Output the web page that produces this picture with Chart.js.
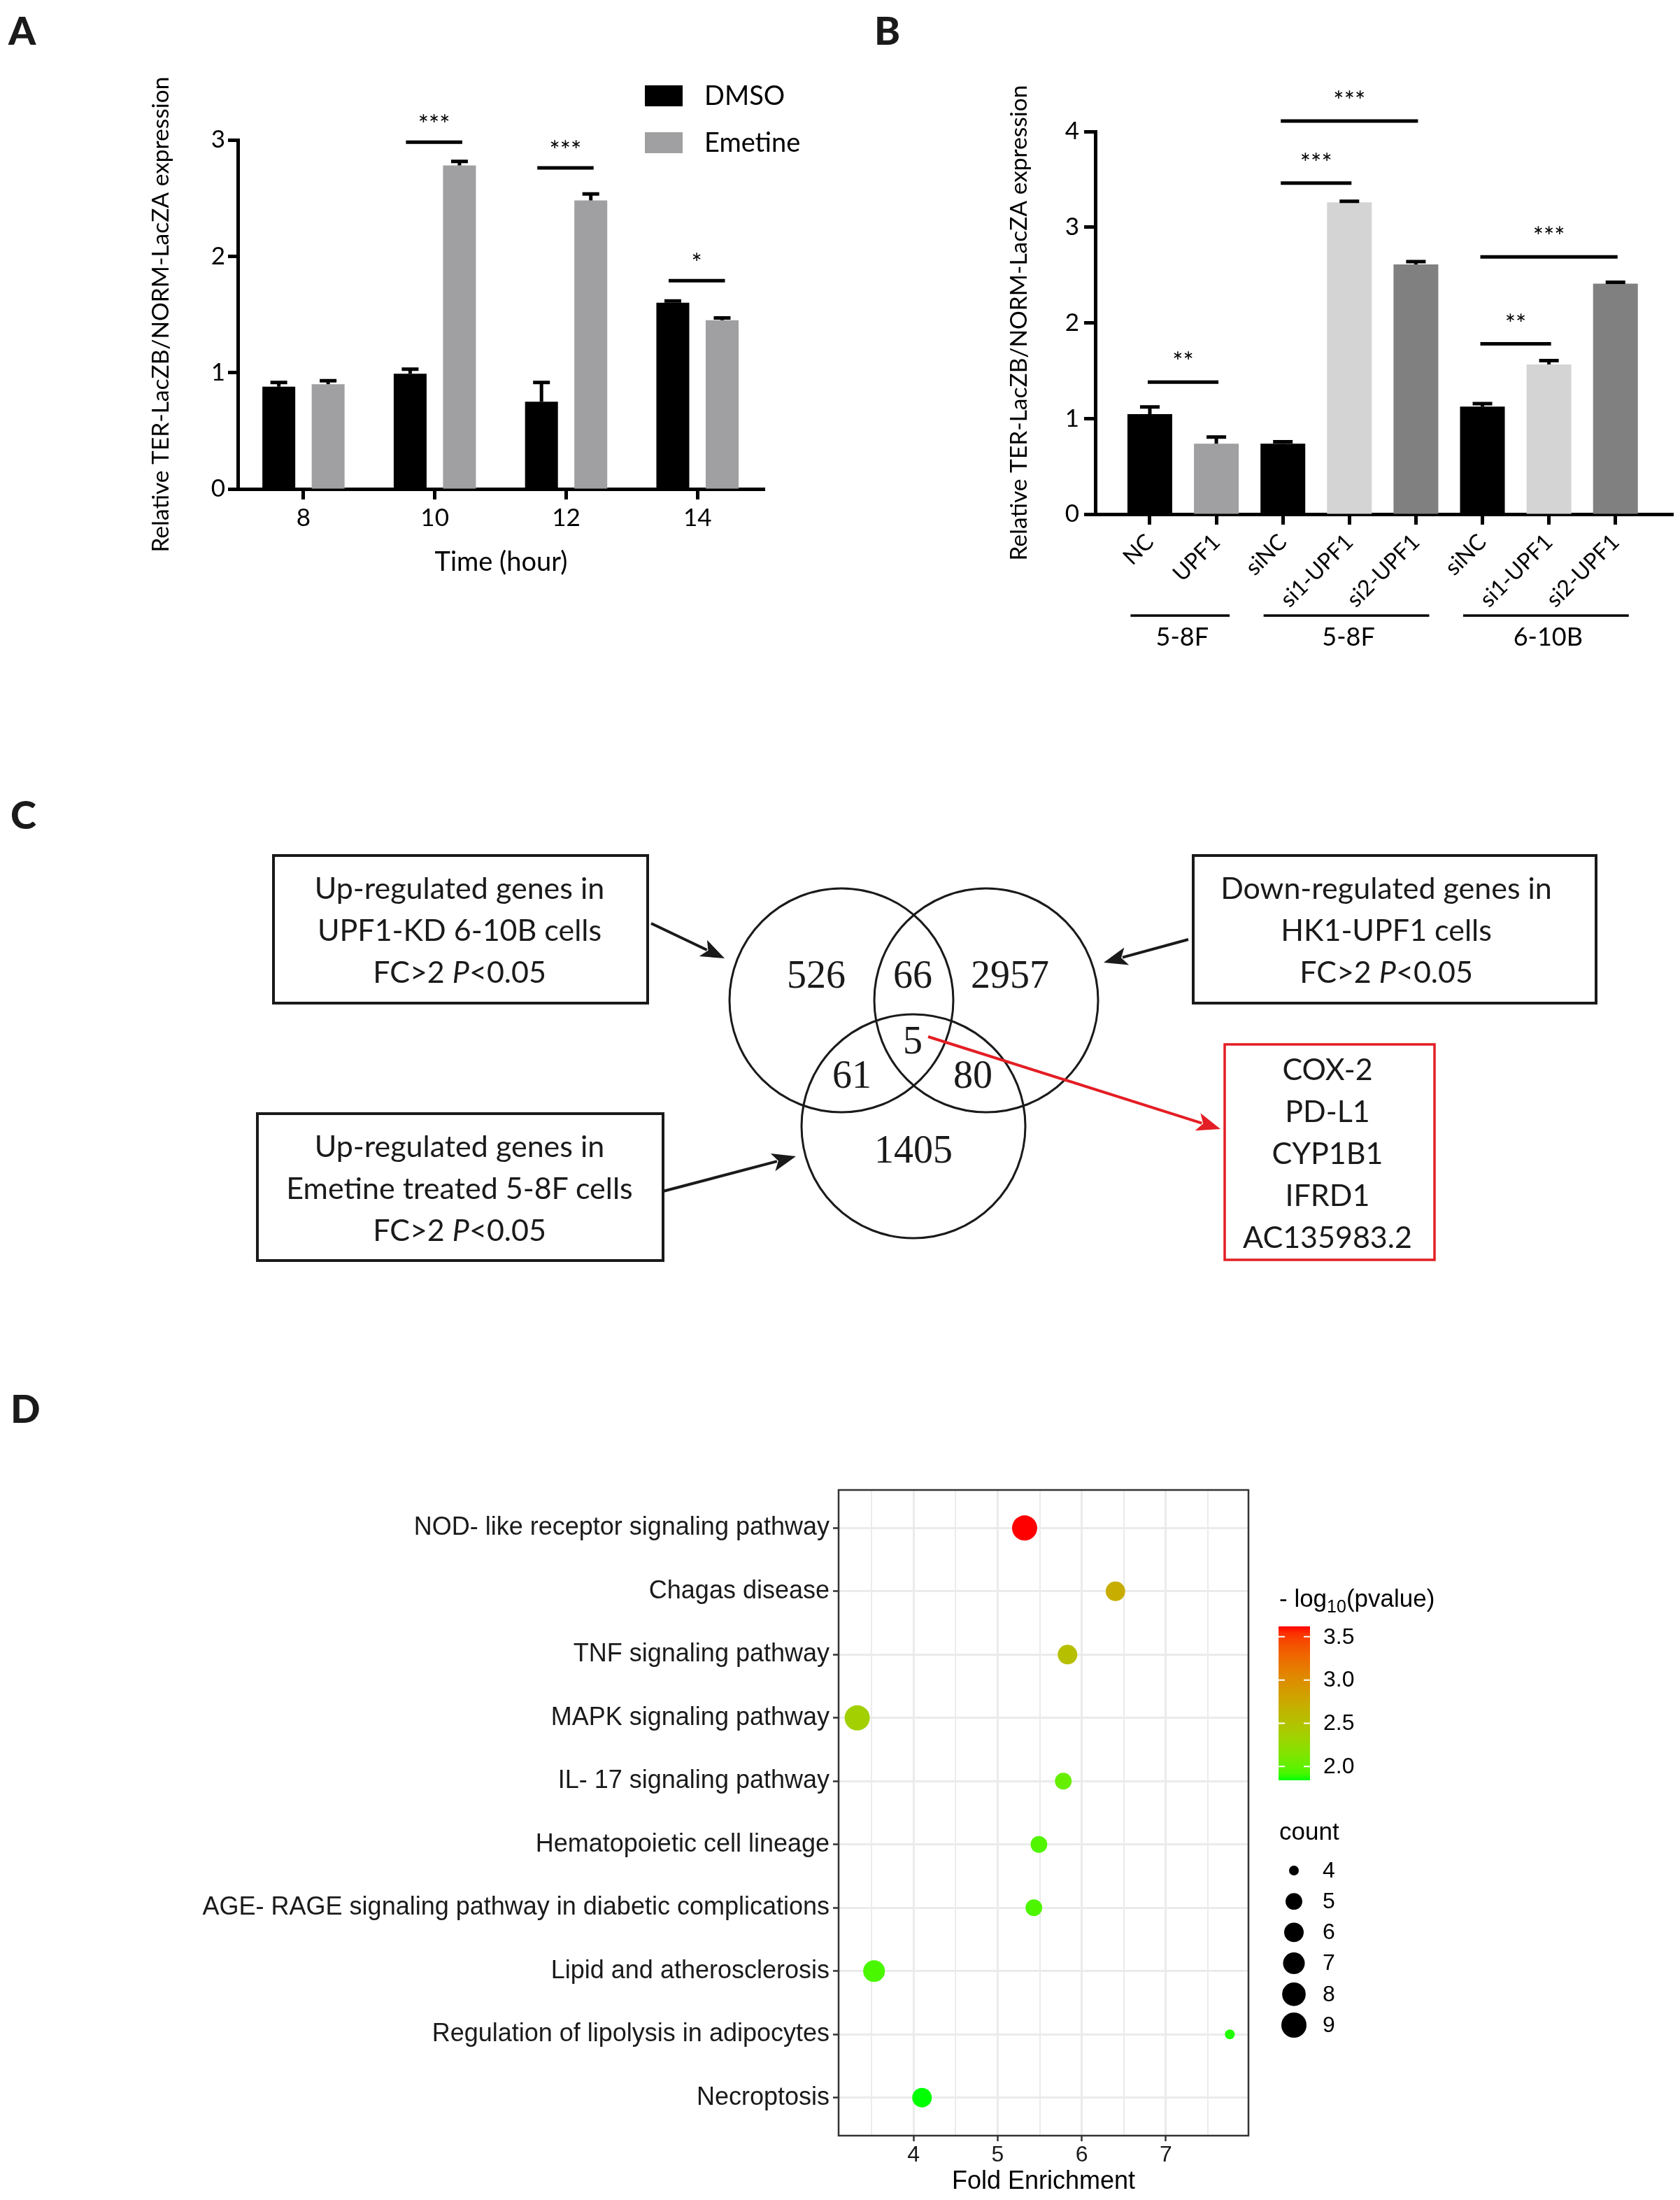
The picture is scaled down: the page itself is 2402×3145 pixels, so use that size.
<!DOCTYPE html>
<html>
<head>
<meta charset="utf-8">
<script src="https://cdn.jsdelivr.net/npm/chart.js@4.4.1/dist/chart.umd.min.js"></script>
<style>
  html, body { margin: 0; padding: 0; background: #fff; }
  #page { position: relative; width: 2402px; height: 3145px; background: #fff; overflow: hidden; }
  canvas, svg { position: absolute; }
  .tag { position: absolute; font: 900 56px Lato, "Open Sans", sans-serif; color: #1a1a1a; line-height: 1; }
</style>
</head>
<body>
<div id="page">
  <div class="tag" style="left:12px;top:15px">A</div>
  <div class="tag" style="left:1250px;top:15px">B</div>
  <div class="tag" style="left:15px;top:1136px">C</div>
  <div class="tag" style="left:15px;top:1985px">D</div>
  <canvas id="chartA" width="1200" height="880" style="left:0;top:0"></canvas>
  <canvas id="chartB" width="1202" height="990" style="left:1200px;top:0"></canvas>
  <svg id="venn" width="2402" height="3145" style="left:0;top:0"></svg>
  <canvas id="chartD" width="2402" height="1065" style="left:0;top:2080px"></canvas>
</div>
<script>
// ---- panel A : time course ----
const timeLabels = ['8', '10', '12', '14'];
const dmsoMean = [0.88, 0.99, 0.75, 1.60];
const dmsoErr  = [0.035, 0.04, 0.165, 0.015];
const emetMean = [0.90, 2.78, 2.48, 1.45];
const emetErr  = [0.03, 0.035, 0.055, 0.02];
// [category, bar height, stars]
const sigA = [[1, 2.98, '***'], [2, 2.76, '***'], [3, 1.79, '*']];

// ---- panel B : UPF1 knockdown / overexpression ----
const knockLabels = ['NC', 'UPF1', 'siNC', 'si1-UPF1', 'si2-UPF1', 'siNC', 'si1-UPF1', 'si2-UPF1'];
const knockMean = [1.045, 0.737, 0.737, 3.26, 2.61, 1.125, 1.565, 2.41];
const knockErr  = [0.075, 0.07, 0.02, 0.01, 0.03, 0.03, 0.04, 0.015];
const cellLines = [['5-8F', 0, 1], ['5-8F', 2, 4], ['6-10B', 5, 7]];
// [from, to, bar height, stars]
const sigB = [[0, 1, 1.38, '**'], [2, 3, 3.46, '***'], [2, 4, 4.11, '***'], [5, 6, 1.78, '**'], [5, 7, 2.69, '***']];

// ---- panel C : venn ----
const setUpKD = ['Up-regulated genes in', 'UPF1-KD 6-10B cells'];
const setDownHK1 = ['Down-regulated genes in', 'HK1-UPF1 cells'];
const setUpEmetine = ['Up-regulated genes in', 'Emetine treated 5-8F cells'];
const vennCounts = ['526', '66', '2957', '5', '61', '80', '1405'];
const sharedGenes = ['COX-2', 'PD-L1', 'CYP1B1', 'IFRD1', 'AC135983.2'];

// ---- panel D : KEGG enrichment ----
const pathways = [
  'NOD- like receptor signaling pathway',
  'Chagas disease',
  'TNF signaling pathway',
  'MAPK signaling pathway',
  'IL- 17 signaling pathway',
  'Hematopoietic cell lineage',
  'AGE- RAGE signaling pathway in diabetic complications',
  'Lipid and atherosclerosis',
  'Regulation of lipolysis in adipocytes',
  'Necroptosis'
];
const foldEnrichment = [5.32, 6.40, 5.83, 3.33, 5.78, 5.49, 5.43, 3.53, 7.76, 4.10];
const geneCount = [9, 6, 6, 9, 5, 5, 5, 7, 4, 6];
const negLog10P = [3.62, 2.71, 2.53, 2.36, 2.02, 1.95, 1.94, 1.93, 1.86, 1.84];
const foldTicks = [3.5, 4, 4.5, 5, 5.5, 6, 6.5, 7, 7.5];
const pTicks = [2.0, 2.5, 3.0, 3.5];
const countTicks = [4, 5, 6, 7, 8, 9];

Chart.defaults.color = '#000';
Chart.defaults.font.family = 'Lato, "Open Sans", sans-serif';

// error bars (mean + SEM, upper only)
const errorBars = {
  id: 'errorBars',
  afterDatasetsDraw(chart, args, opts) {
    const ctx = chart.ctx, y = chart.scales.y;
    ctx.save();
    ctx.strokeStyle = '#000';
    ctx.lineWidth = opts.width;
    chart.data.datasets.forEach((ds, di) => {
      chart.getDatasetMeta(di).data.forEach((bar, i) => {
        const top = y.getPixelForValue(ds.data[i].y + ds.errors[i]);
        ctx.beginPath();
        ctx.moveTo(bar.x, bar.y);
        ctx.lineTo(bar.x, top);
        ctx.moveTo(bar.x - opts.cap / 2, top);
        ctx.lineTo(bar.x + opts.cap / 2, top);
        ctx.stroke();
      });
    });
    ctx.restore();
  }
};

function drawSig(ctx, x1, x2, yPix, text, lift) {
  ctx.beginPath();
  ctx.moveTo(x1, yPix);
  ctx.lineTo(x2, yPix);
  ctx.stroke();
  ctx.fillText(text, (x1 + x2) / 2, yPix - lift);
}

// ---------- A ----------
new Chart(document.getElementById('chartA'), {
  type: 'bar',
  data: {
    datasets: [
      { label: 'DMSO', data: dmsoMean.map((y, i) => ({ x: i, y })), errors: dmsoErr,
        backgroundColor: '#000', categoryPercentage: 0.751, barPercentage: 0.667 },
      { label: 'Emetine', data: emetMean.map((y, i) => ({ x: i, y })), errors: emetErr,
        backgroundColor: '#a0a0a2', categoryPercentage: 0.751, barPercentage: 0.667 }
    ]
  },
  options: {
    responsive: false, animation: false, devicePixelRatio: 1,
    layout: { padding: { left: 206, top: 200, right: 107, bottom: 49 } },
    plugins: { legend: { display: false }, tooltip: { enabled: false },
               errorBars: { width: 5, cap: 24 } },
    scales: {
      x: {
        type: 'linear', min: -0.5, max: 3.51, offset: false,
        afterBuildTicks: s => { s.ticks = timeLabels.map((_, i) => ({ value: i })); },
        afterFit: s => { s.height = 132; },
        ticks: { callback: v => timeLabels[v], font: { size: 35 }, padding: 6, autoSkip: false, maxRotation: 0 },
        grid: { offset: false, drawOnChartArea: false, drawTicks: true, tickLength: 15, tickWidth: 5, tickColor: '#000' },
        border: { display: true, width: 5, color: '#000' },
        title: { display: true, text: 'Time (hour)', font: { size: 38 }, color: '#000' }
      },
      y: {
        min: 0, max: 3,
        afterFit: s => { s.width = 134; },
        ticks: { stepSize: 1, font: { size: 35 }, padding: 4 },
        grid: { drawOnChartArea: false, drawTicks: true, tickLength: 14, tickWidth: 5, tickColor: '#000' },
        border: { display: true, width: 5, color: '#000' },
        title: { display: true, text: 'Relative TER-LacZB/NORM-LacZA expression', font: { size: 33.5 }, color: '#000' }
      }
    }
  },
  plugins: [errorBars, {
    id: 'annotA',
    afterDraw(chart) {
      const ctx = chart.ctx, y = chart.scales.y;
      const m0 = chart.getDatasetMeta(0), m1 = chart.getDatasetMeta(1);
      ctx.save();
      ctx.strokeStyle = '#000';
      ctx.fillStyle = '#000';
      ctx.lineWidth = 5;
      ctx.font = '36px Lato, sans-serif';
      ctx.textAlign = 'center';
      ctx.textBaseline = 'alphabetic';
      sigA.forEach(([i, h, t]) => drawSig(ctx, m0.data[i].x - 6, m1.data[i].x + 4, y.getPixelForValue(h), t, 12));
      // legend
      ctx.font = '38px Lato, sans-serif';
      ctx.textAlign = 'left';
      ctx.textBaseline = 'middle';
      chart.data.datasets.forEach((ds, k) => {
        const top = 122 + k * 67;
        ctx.fillStyle = ds.backgroundColor;
        ctx.fillRect(922, top, 54, 30);
        ctx.fillStyle = '#000';
        ctx.fillText(ds.label, 1007, top + 16);
      });
      ctx.restore();
    }
  }]
});

// ---------- B ----------
const knockColors = ['#000', '#a0a0a2', '#000', '#d4d4d4', '#808080', '#000', '#d4d4d4', '#808080'];
new Chart(document.getElementById('chartB'), {
  type: 'bar',
  data: {
    datasets: [{
      label: 'TER/NORM', data: knockMean.map((y, i) => ({ x: i, y })), errors: knockErr,
      backgroundColor: knockColors, categoryPercentage: 1, barPercentage: 0.673
    }]
  },
  options: {
    responsive: false, animation: false, devicePixelRatio: 1,
    layout: { padding: { left: 233, top: 188, right: 10, bottom: 0 } },
    plugins: { legend: { display: false }, tooltip: { enabled: false },
               errorBars: { width: 5, cap: 28 } },
    scales: {
      x: {
        type: 'linear', min: -0.82, max: 7.865, offset: false,
        afterBuildTicks: s => { s.ticks = knockLabels.map((_, i) => ({ value: i })); },
        afterFit: s => { s.height = 255; },
        ticks: { callback: v => knockLabels[v], font: { size: 32 }, padding: 6, autoSkip: false,
                 minRotation: 45, maxRotation: 45 },
        grid: { offset: false, drawOnChartArea: false, drawTicks: true, tickLength: 15, tickWidth: 5, tickColor: '#000' },
        border: { display: true, width: 5, color: '#000' }
      },
      y: {
        min: 0, max: 4,
        afterFit: s => { s.width = 133; },
        ticks: { stepSize: 1, font: { size: 35 }, padding: 7 },
        grid: { drawOnChartArea: false, drawTicks: true, tickLength: 16, tickWidth: 5, tickColor: '#000' },
        border: { display: true, width: 5, color: '#000' },
        title: { display: true, text: 'Relative TER-LacZB/NORM-LacZA expression', font: { size: 33.5 }, color: '#000' }
      }
    }
  },
  plugins: [errorBars, {
    id: 'annotB',
    afterDraw(chart) {
      const ctx = chart.ctx, x = chart.scales.x, y = chart.scales.y;
      const bars = chart.getDatasetMeta(0).data;
      ctx.save();
      ctx.strokeStyle = '#000';
      ctx.fillStyle = '#000';
      ctx.lineWidth = 5;
      ctx.font = '36px Lato, sans-serif';
      ctx.textAlign = 'center';
      sigB.forEach(([a, b, h, t]) => drawSig(ctx, bars[a].x - 3, bars[b].x + 3, y.getPixelForValue(h), t, 16));
      // cell line brackets
      ctx.lineWidth = 3.5;
      ctx.font = '36px Lato, sans-serif';
      ctx.textBaseline = 'middle';
      cellLines.forEach(([name, a, b]) => {
        const x1 = x.getPixelForValue(a - 0.29), x2 = x.getPixelForValue(b + 0.2);
        ctx.beginPath();
        ctx.moveTo(x1, 880);
        ctx.lineTo(x2, 880);
        ctx.stroke();
        ctx.fillText(name, (x1 + x2) / 2 + 3, 911);
      });
      ctx.restore();
    }
  }]
});

// ---------- C ----------
const NS = 'http://www.w3.org/2000/svg';
const svg = document.getElementById('venn');
function el(tag, attrs, parent = svg) {
  const e = document.createElementNS(NS, tag);
  for (const k in attrs) e.setAttribute(k, attrs[k]);
  parent.appendChild(e);
  return e;
}
function label(txt, x, y, size, family, fill = '#1a1a1a') {
  const t = el('text', { x, y, 'font-size': size, 'font-family': family, fill,
    'text-anchor': 'middle', 'dominant-baseline': 'central' });
  t.textContent = txt;
  return t;
}
function cutoffLine(x, y) {
  const t = el('text', { x, y, 'font-size': 43, 'font-family': 'Lato, sans-serif', fill: '#1a1a1a',
    'text-anchor': 'middle', 'dominant-baseline': 'central' });
  el('tspan', {}, t).textContent = 'FC>2 ';
  el('tspan', { 'font-style': 'italic' }, t).textContent = 'P';
  el('tspan', {}, t).textContent = '<0.05';
}
function arrow(x1, y1, x2, y2, color, w) {
  const ang = Math.atan2(y2 - y1, x2 - x1), hl = 34, hw = 13;
  const bx = x2 - hl * Math.cos(ang), by = y2 - hl * Math.sin(ang);
  el('line', { x1, y1, x2: bx + 6 * Math.cos(ang), y2: by + 6 * Math.sin(ang), stroke: color, 'stroke-width': w });
  const px = -Math.sin(ang) * hw, py = Math.cos(ang) * hw;
  const nx = x2 - (hl - 8) * Math.cos(ang), ny = y2 - (hl - 8) * Math.sin(ang);
  el('polygon', { points: `${x2},${y2} ${bx + px},${by + py} ${nx},${ny} ${bx - px},${by - py}`, fill: color });
}
function setBox(x, y, w, h, lines, cx) {
  el('rect', { x, y, width: w, height: h, fill: 'none', stroke: '#1a1a1a', 'stroke-width': 4 });
  lines.forEach((s, k) => label(s, cx, y + 45 + k * 60, 43, 'Lato, sans-serif'));
  cutoffLine(cx, y + 165);
}
setBox(391, 1223, 535, 211, setUpKD, 657);
setBox(1706, 1223, 576, 211, setDownHK1, 1982);
setBox(368, 1592, 580, 210, setUpEmetine, 657);

[[1203, 1430], [1410, 1430], [1306, 1610]].forEach(([cx, cy]) =>
  el('circle', { cx, cy, r: 160, fill: 'none', stroke: '#1a1a1a', 'stroke-width': 3 }));
const vennPos = [[1167, 1393], [1305, 1393], [1444, 1393], [1305, 1487], [1218, 1536], [1391, 1536], [1306, 1643]];
vennCounts.forEach((n, k) => label(n, vennPos[k][0], vennPos[k][1], 56, '"Liberation Serif", "Times New Roman", serif'));

el('rect', { x: 1751, y: 1493, width: 300, height: 308, fill: 'none', stroke: '#e31e24', 'stroke-width': 3.5 });
sharedGenes.forEach((g, k) => label(g, 1898, 1527 + k * 60, 43, 'Lato, sans-serif'));

arrow(931, 1320, 1036, 1370, '#1a1a1a', 4);
arrow(1699, 1343, 1578, 1376, '#1a1a1a', 4);
arrow(948, 1703, 1138, 1653, '#1a1a1a', 4);
arrow(1327, 1482, 1745, 1614, '#e31e24', 4);

// ---------- D ----------
function toLab(rgb) {
  const lin = c => { c /= 255; return c <= 0.04045 ? c / 12.92 : Math.pow((c + 0.055) / 1.055, 2.4); };
  const [r, g, b] = rgb.map(lin);
  const X = (0.4124 * r + 0.3576 * g + 0.1805 * b) / 0.95047;
  const Y = 0.2126 * r + 0.7152 * g + 0.0722 * b;
  const Z = (0.0193 * r + 0.1192 * g + 0.9505 * b) / 1.08883;
  const f = t => t > 0.008856 ? Math.cbrt(t) : 7.787 * t + 16 / 116;
  return [116 * f(Y) - 16, 500 * (f(X) - f(Y)), 200 * (f(Y) - f(Z))];
}
function fromLab([L, a, b]) {
  const fy = (L + 16) / 116, fx = fy + a / 500, fz = fy - b / 200;
  const inv = t => t ** 3 > 0.008856 ? t ** 3 : (t - 16 / 116) / 7.787;
  const X = inv(fx) * 0.95047, Y = inv(fy), Z = inv(fz) * 1.08883;
  const rgb = [3.2406 * X - 1.5372 * Y - 0.4986 * Z, -0.9689 * X + 1.8758 * Y + 0.0415 * Z, 0.0557 * X - 0.2040 * Y + 1.0570 * Z];
  const enc = c => { c = Math.min(1, Math.max(0, c)); return Math.round(255 * (c <= 0.0031308 ? 12.92 * c : 1.055 * Math.pow(c, 1 / 2.4) - 0.055)); };
  return 'rgb(' + rgb.map(enc).join(',') + ')';
}
const labLow = toLab([0, 255, 0]), labHigh = toLab([255, 0, 0]);
const pMin = Math.min(...negLog10P), pMax = Math.max(...negLog10P);
const cMin = Math.min(...geneCount), cMax = Math.max(...geneCount);
const heat = v => { const t = (v - pMin) / (pMax - pMin); return fromLab(labLow.map((c, i) => c + (labHigh[i] - c) * t)); };
const radiusOf = c => (14 + 22 * Math.sqrt((c - cMin) / (cMax - cMin))) / 2;
const feMin = Math.min(...foldEnrichment), feMax = Math.max(...foldEnrichment);
const fePad = 0.05 * (feMax - feMin);
const ggFont = '"Liberation Sans", Arial, sans-serif';

new Chart(document.getElementById('chartD'), {
  type: 'scatter',
  data: {
    datasets: [{
      label: 'KEGG',
      data: foldEnrichment.map((x, i) => ({ x, y: i })),
      backgroundColor: negLog10P.map(heat),
      pointRadius: geneCount.map(radiusOf),
      pointHoverRadius: geneCount.map(radiusOf),
      borderWidth: 0
    }]
  },
  options: {
    responsive: false, animation: false, devicePixelRatio: 1,
    layout: { padding: { left: 0, top: 50, right: 617, bottom: 0 } },
    plugins: { legend: { display: false }, tooltip: { enabled: false } },
    scales: {
      x: {
        type: 'linear', min: feMin - fePad, max: feMax + fePad,
        afterBuildTicks: s => { s.ticks = foldTicks.map(value => ({ value })); },
        afterFit: s => { s.height = 92; },
        ticks: { callback: v => Number.isInteger(v) ? String(v) : '', font: { family: ggFont, size: 32 },
                 color: '#1a1a1a', padding: 1, autoSkip: false, maxRotation: 0 },
        grid: { color: '#ebebeb', lineWidth: c => Number.isInteger(c.tick && c.tick.value) ? 3 : 2,
                tickColor: c => Number.isInteger(c.tick && c.tick.value) ? '#333' : 'rgba(0,0,0,0)',
                tickLength: 8, tickWidth: 2.5 },
        border: { display: false },
        title: { display: true, text: 'Fold Enrichment', font: { family: ggFont, size: 36 }, color: '#000' }
      },
      y: {
        type: 'linear', min: -0.6, max: pathways.length - 0.4, reverse: true,
        afterBuildTicks: s => { s.ticks = pathways.map((_, i) => ({ value: i })); },
        afterFit: s => { s.width = 1199; },
        ticks: { callback: v => pathways[v], font: { family: ggFont, size: 36 }, color: '#1a1a1a',
                 padding: 5, autoSkip: false },
        grid: { color: '#ebebeb', lineWidth: 3, tickColor: '#333', tickLength: 8, tickWidth: 2.5 },
        border: { display: false }
      }
    }
  },
  plugins: [{
    id: 'panelBorder',
    afterDatasetsDraw(chart) {
      const { ctx, chartArea: a } = chart;
      ctx.save();
      ctx.strokeStyle = '#333';
      ctx.lineWidth = 2.5;
      ctx.strokeRect(a.left, a.top, a.width, a.height);
      ctx.restore();
    }
  }, {
    id: 'ggLegend',
    afterDraw(chart) {
      const ctx = chart.ctx, oy = 2080;
      ctx.save();
      ctx.fillStyle = '#000';
      ctx.textAlign = 'left';
      ctx.textBaseline = 'alphabetic';
      let x = 1829;
      const ty = 2297 - oy;
      ctx.font = '35px ' + ggFont;
      ctx.fillText('- log', x, ty); x += ctx.measureText('- log').width;
      ctx.font = '25px ' + ggFont;
      ctx.fillText('10', x, ty + 8); x += ctx.measureText('10').width;
      ctx.font = '35px ' + ggFont;
      ctx.fillText('(pvalue)', x, ty);
      // colour bar
      const bx = 1828, by = 2325 - oy, bw = 45, bh = 220;
      const grad = ctx.createLinearGradient(0, by + bh, 0, by);
      for (let k = 0; k <= 24; k++) grad.addColorStop(k / 24, heat(pMin + (pMax - pMin) * k / 24));
      ctx.fillStyle = grad;
      ctx.fillRect(bx, by, bw, bh);
      ctx.strokeStyle = '#fff';
      ctx.lineWidth = 2;
      ctx.font = '32px ' + ggFont;
      ctx.textBaseline = 'middle';
      pTicks.forEach(v => {
        const yy = by + bh - (v - pMin) / (pMax - pMin) * bh;
        ctx.beginPath();
        ctx.moveTo(bx, yy); ctx.lineTo(bx + 9, yy);
        ctx.moveTo(bx + bw - 9, yy); ctx.lineTo(bx + bw, yy);
        ctx.stroke();
        ctx.fillStyle = '#000';
        ctx.fillText(v.toFixed(1), 1892, yy + 1);
      });
      // size legend
      ctx.textBaseline = 'alphabetic';
      ctx.font = '35px ' + ggFont;
      ctx.fillText('count', 1829, 2630 - oy);
      ctx.font = '32px ' + ggFont;
      ctx.textBaseline = 'middle';
      countTicks.forEach((c, k) => {
        const yy = 2674 - oy + k * 44.2;
        ctx.beginPath();
        ctx.arc(1850, yy, radiusOf(c), 0, Math.PI * 2);
        ctx.fill();
        ctx.fillText(String(c), 1891, yy + 1);
      });
      ctx.restore();
    }
  }]
});
</script>
</body>
</html>
